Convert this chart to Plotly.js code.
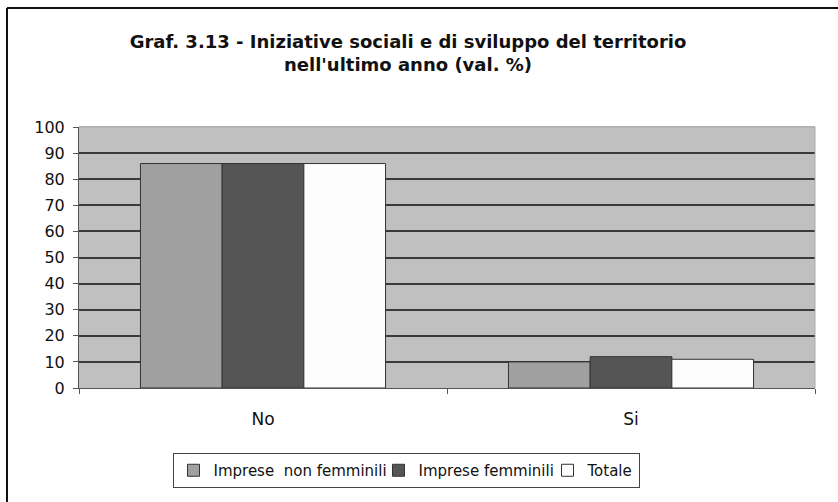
<!DOCTYPE html>
<html>
<head>
<meta charset="utf-8">
<script src="https://cdn.plot.ly/plotly-3.0.1.min.js"></script>
<style>html,body{margin:0;padding:0;background:#fff;}#chart{width:838px;height:502px;}</style>
</head>
<body>
<div id="chart"></div>
<script>
var categories = ["No", "Si"];
var seriesNames = ["Imprese  non femminili", "Imprese femminili", "Totale"];
var nonFemminili = [86, 10];
var femminili = [86, 12];
var totale = [86, 11];
var yTicks = [0, 10, 20, 30, 40, 50, 60, 70, 80, 90, 100];

var colors = ["#a0a0a0", "#555555", "#fdfdfd"];
// legend entry widths (px) to keep entries tight as in the original legend
var legendWidths = [160, 124, null];
var values = [nonFemminili, femminili, totale];
var traces = values.map(function (v, i) {
  var t = {
    type: "bar",
    name: seriesNames[i],
    x: categories,
    y: v,
    marker: { color: colors[i], line: { color: "#333333", width: 1 } },
    hoverinfo: "x+y+name"
  };
  if (legendWidths[i]) t.legendwidth = legendWidths[i];
  return t;
});

// plot area pixel frame
var L = 79, R = 815, T = 127, B = 388, W = 838, H = 502;
function px(x) { return (x - L) / (R - L); }
function py(y) { return (B - y) / (B - T); }

var layout = {
  width: W, height: H,
  margin: { l: L, r: W - R, t: T, b: H - B, pad: 0 },
  paper_bgcolor: "#ffffff",
  plot_bgcolor: "#c0c0c0",
  font: { family: "DejaVu Sans, Liberation Sans, Arial, sans-serif", size: 16, color: "#111" },
  title: {
    text: "<b>Graf. 3.13 - Iniziative sociali e di sviluppo del territorio<br>nell'ultimo anno (val. %)</b>",
    font: { size: 18, color: "#111" },
    x: px(408), xref: "paper", xanchor: "center",
    y: 1 - 48 / H, yref: "container", yanchor: "top"
  },
  barmode: "group",
  bargap: 0.334,
  bargroupgap: 0,
  xaxis: {
    type: "category",
    tickson: "boundaries",
    ticks: "outside", ticklen: 5, tickcolor: "#555",
    showline: true, linecolor: "#555", linewidth: 1,
    showgrid: false,
    ticklabelstandoff: 16,
    tickfont: { size: 17 }
  },
  yaxis: {
    range: [0, 100],
    tickvals: yTicks,
    ticks: "outside", ticklen: 5, tickcolor: "#555",
    showline: true, linecolor: "#555", linewidth: 1,
    showgrid: true, gridcolor: "#3a3a3a", gridwidth: 2,
    zeroline: false,
    ticklabelstandoff: 5,
    tickfont: { size: 16 }
  },
  showlegend: true,
  legend: {
    orientation: "h",
    x: px(406), xanchor: "center",
    y: py(453), yanchor: "top",
    bordercolor: "#444", borderwidth: 1,
    bgcolor: "#fff",
    font: { size: 15 },
    itemwidth: 30,
    traceorder: "normal"
  },
  shapes: [
    { type: "line", xref: "paper", yref: "paper", x0: 0, x1: 1, y0: 1, y1: 1, layer: "above", line: { color: "#b4b4b4", width: 2 } },
    { type: "line", xref: "paper", yref: "paper", x0: 1, x1: 1, y0: 0, y1: 1, layer: "above", line: { color: "#aaaaaa", width: 1 } },
    { type: "line", xref: "paper", yref: "paper", x0: px(7), x1: px(838), y0: py(8), y1: py(8), line: { color: "#111", width: 2 } },
    { type: "line", xref: "paper", yref: "paper", x0: px(7), x1: px(7), y0: py(8), y1: py(502), line: { color: "#111", width: 2 } }
  ]
};

Plotly.newPlot("chart", traces, layout, { displayModeBar: false, staticPlot: true });
</script>
</body>
</html>
